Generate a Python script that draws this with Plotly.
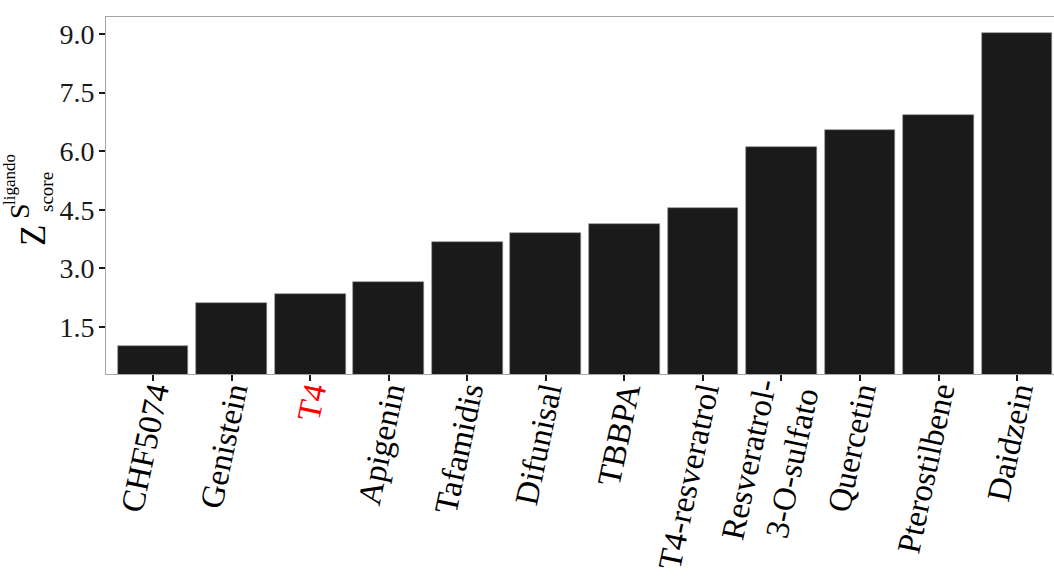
import plotly.graph_objects as go

categories = ["CHF5074", "Genistein", "T4", "Apigenin", "Tafamidis", "Difunisal",
              "TBBPA", "T4-resveratrol", "Resveratrol-<br>3-O-sulfato", "Quercetin",
              "Pterostilbene", "Daidzein"]
values = [1.01, 2.12, 2.35, 2.65, 3.67, 3.90, 4.13, 4.55, 6.12, 6.55, 6.93, 9.02]
label_colors = ["#000000", "#000000", "#ff0000", "#000000", "#000000", "#000000",
                "#000000", "#000000", "#000000", "#000000", "#000000", "#000000"]
ytick_vals = [1.5, 3.0, 4.5, 6.0, 7.5, 9.0]

xpos = list(range(len(categories)))
ticktext = [f'<span style="color:{c}">{t}</span>' for t, c in zip(categories, label_colors)]

fig = go.Figure()
fig.add_trace(go.Bar(
    x=xpos, y=values, width=0.9,
    marker=dict(color="#1a1a1a", line=dict(color="#8a8a8a", width=0.6)),
    showlegend=False,
))

serif = "Liberation Serif, Times New Roman, serif"

fig.update_layout(
    width=1054, height=577,
    margin=dict(l=106, r=0, t=17, b=203),
    plot_bgcolor="white", paper_bgcolor="white",
    font=dict(family=serif, color="#000000"),
    bargap=0,
    xaxis=dict(
        range=[-0.6, 11.47],
        automargin=False,
        tickmode="array", tickvals=xpos, ticktext=ticktext,
        tickangle=-78,
        tickfont=dict(family=serif, size=33, color="#000000"),
        ticks="outside", ticklen=6, tickwidth=2, tickcolor="#1a1a1a",
        ticklabelstandoff=-21,
        showline=True, linecolor="#a6a6a6", linewidth=1, mirror=True,
        showgrid=False, zeroline=False,
    ),
    yaxis=dict(
        range=[0.30, 9.435],
        automargin=False,
        tickmode="array", tickvals=ytick_vals, tickformat=".1f",
        tickfont=dict(family=serif, size=28, color="#1a1a1a"),
        ticks="outside", ticklen=6, tickwidth=2, tickcolor="#1a1a1a",
        ticklabelstandoff=-1,
        showline=True, linecolor="#a6a6a6", linewidth=1, mirror=True,
        showgrid=False, zeroline=False,
    ),
)

W, H = 948.0, 357.0
def px(x):
    return (x - 106) / W
def py(y):
    return (374 - y) / H

fig.add_annotation(text="Z", x=px(33), y=py(236), xref="paper", yref="paper",
                   textangle=-90, showarrow=False, xanchor="center", yanchor="middle",
                   font=dict(family=serif, size=35, color="#000000"))
fig.add_annotation(text="S", x=px(19), y=py(211), xref="paper", yref="paper",
                   textangle=-90, showarrow=False, xanchor="center", yanchor="middle",
                   font=dict(family=serif, size=28, color="#000000"))
fig.add_annotation(text="ligando", x=px(9), y=py(180), xref="paper", yref="paper",
                   textangle=-90, showarrow=False, xanchor="center", yanchor="middle",
                   font=dict(family=serif, size=17, color="#000000"))
fig.add_annotation(text="score", x=px(46), y=py(192), xref="paper", yref="paper",
                   textangle=-90, showarrow=False, xanchor="center", yanchor="middle",
                   font=dict(family=serif, size=19, color="#000000"))

fig.write_html("out.html")
